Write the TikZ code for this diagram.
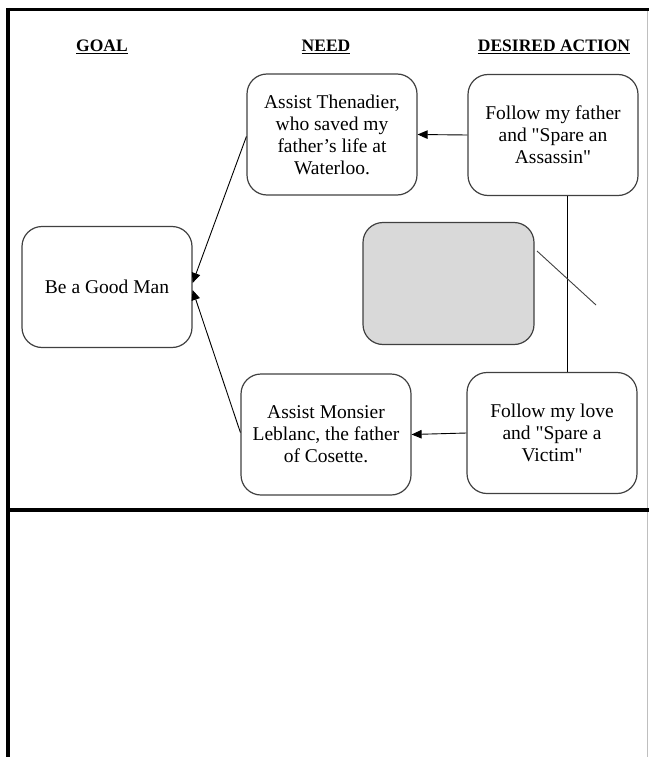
\documentclass[tikz,border=0pt]{standalone}
\usepackage{fontspec}
\setmainfont{Liberation Serif}[Ligatures=TeXOff]
\usetikzlibrary{arrows.meta}

\begin{document}
\begin{tikzpicture}[x=1pt,y=-1pt,
  card/.style={draw=black!75,line width=1.2pt,rounded corners=20pt,
    minimum width=170pt,minimum height=121pt,align=center,inner sep=2pt,
    font=\fontsize{19.5}{22}\selectfont},
  head/.style={anchor=base,font=\bfseries\fontsize{17.5}{20}\selectfont},
  link/.style={line width=0.9pt,-{Triangle[length=10pt,width=8.5pt]}}]
  \useasboundingbox (0,0) rectangle (649,757);
  \draw[black!25,line width=0.8pt] (647.5,10) -- (647.5,757);
  \draw[line width=3.5pt] (8,8) -- (8,757);
  \draw[line width=3.2pt] (6.25,9.8) -- (649,9.8);
  \draw[line width=4pt] (6.25,509.7) -- (649,509.7);

  \node[head] (goalhead) at (102,52) {\underline{GOAL}};
  \node[head] (needhead) at (326,52) {\underline{NEED}};
  \node[head] (acthead) at (554,52) {\underline{DESIRED ACTION}};

  \node[card] (goal) at (107,287) {Be a Good Man};
  \node[card] (thenadier) at (332,134.5) {Assist Thenadier,\\ who saved my\\ father’s life at\\ Waterloo.};
  \node[card] (leblanc) at (326,434.5) {Assist Monsier\\ Leblanc, the father\\ of Cosette.};
  \node[card] (father) at (553,135) {Follow my father\\ and "Spare an\\ Assassin"};
  \node[card] (love) at (552,433) {Follow my love\\ and "Spare a\\ Victim"};
  \node[card,fill=black!15,minimum width=171pt,minimum height=122pt] (blank) at (448.5,283.5) {};

  \draw[link] (father.west) -- (thenadier.east);
  \draw[link] (love.west) -- (leblanc.east);
  \draw[link] ([yshift=-2pt]thenadier.west) -- ([yshift=4pt]goal.east);
  \draw[link] ([yshift=2pt]leblanc.west) -- ([yshift=-3pt]goal.east);
  \draw[line width=0.9pt] ([xshift=14pt]father.south) -- ([xshift=14pt]father.south |- love.north);

  \coordinate (slash1) at (537,251);
  \coordinate (slash2) at (596,305);
  \draw[black!75,line width=0.9pt] (slash1) -- (slash2);
\end{tikzpicture}
\end{document}
